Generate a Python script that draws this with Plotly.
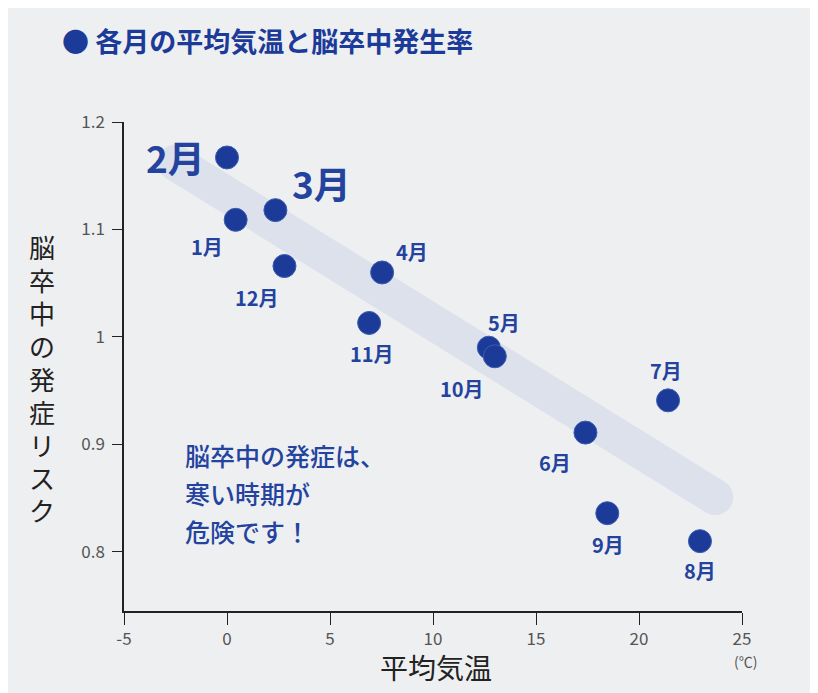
import plotly.graph_objects as go

# ---- data ----
months = ["1月", "2月", "3月", "4月", "5月", "6月", "7月", "8月", "9月", "10月", "11月", "12月"]
temp = [0.42, 0.0, 2.35, 7.53, 12.71, 17.40, 21.41, 22.96, 18.46, 13.0, 6.90, 2.79]
risk = [1.109, 1.167, 1.118, 1.060, 0.990, 0.911, 0.941, 0.810, 0.836, 0.982, 1.013, 1.066]

trend_x = [-2.5, 23.7]
trend_y = [1.162, 0.851]

x_ticks = [-5, 0, 5, 10, 15, 20, 25]
x_tick_labels = ["-5", "0", "5", "10", "15", "20", "25"]
y_ticks = [0.8, 0.9, 1.0, 1.1, 1.2]
y_tick_labels = ["0.8", "0.9", "1", "1.1", "1.2"]

title_text = "● 各月の平均気温と脳卒中発生率"
x_title = "平均気温"
y_title = "脳卒中の発症リスク"
unit_text = "(℃)"
note_lines = ["脳卒中の発症は、", "寒い時期が", "危険です！"]

# ---- styling / layout ----
OFF = 8  # page body margin
W, H = 818 - OFF, 693 - OFF
L, R, T, B = 124 - OFF, 76, 122 - OFF, 82
PW, PH = W - L - R, H - T - B
BLUE = "#1c3a98"
TEXT_BLUE = "#23439e"
BG = "#eeeff1"
FONT = "Noto Sans CJK JP"

label_offsets = {  # pixel offsets of month labels from their dot (x right, y up)
    "1月": (-29, -27), "2月": (-52, 0), "3月": (46, 27), "4月": (30, 21),
    "5月": (15, 25), "6月": (-30, -30), "7月": (-2, 30), "8月": (0, -29),
    "9月": (1, -31), "10月": (-33, -32), "11月": (3, -31), "12月": (-27, -31),
}
big_labels = {"2月", "3月"}


def px(x):
    return (x - OFF - L) / PW


def py(y):
    return (H - B - (y - OFF)) / PH


fig = go.Figure()

# trend band
fig.add_trace(go.Scatter(
    x=trend_x, y=trend_y, mode="lines+markers",
    line=dict(color="#dce1ec", width=36),
    marker=dict(size=36, color="#dce1ec"),
    hoverinfo="skip", showlegend=False, cliponaxis=False,
))

# points (5月 drawn before 10月 so 10月 overlaps)
fig.add_trace(go.Scatter(
    x=temp, y=risk, mode="markers",
    marker=dict(size=23, color=BLUE, line=dict(width=1, color="#3d5cb3")),
    text=months, hoverinfo="text", showlegend=False, cliponaxis=False,
))

annotations = []
for m, xv, yv in zip(months, temp, risk):
    dx, dy = label_offsets[m]
    big = m in big_labels
    annotations.append(dict(
        x=xv, y=yv, xref="x", yref="y", text=f"<b>{m}</b>", showarrow=False,
        xshift=dx, yshift=dy, xanchor="center", yanchor="middle",
        font=dict(family=FONT, size=37 if big else 20, color=TEXT_BLUE),
    ))

# title
annotations.append(dict(
    x=px(60), y=py(40), xref="paper", yref="paper", text=f"<b>{title_text}</b>",
    showarrow=False, xanchor="left", yanchor="middle",
    font=dict(family=FONT, size=27, color=BLUE),
))

# x title and unit
annotations.append(dict(
    x=px(436), y=py(667), xref="paper", yref="paper", text=x_title,
    showarrow=False, xanchor="center", yanchor="middle",
    font=dict(family=FONT, size=28, color="#222222"),
))
annotations.append(dict(
    x=px(745), y=py(661), xref="paper", yref="paper", text=unit_text,
    showarrow=False, xanchor="center", yanchor="middle",
    font=dict(family=FONT, size=14, color="#555555"),
))

# vertical y title
for i, ch in enumerate(y_title):
    annotations.append(dict(
        x=px(42), y=py(246 + i * 33), xref="paper", yref="paper", text=ch,
        showarrow=False, xanchor="center", yanchor="middle",
        font=dict(family=FONT, size=26, color="#222222"),
    ))

# note text
for i, line in enumerate(note_lines):
    annotations.append(dict(
        x=px(183), y=py(455 + i * 38), xref="paper", yref="paper", text=line,
        showarrow=False, xanchor="left", yanchor="middle",
        font=dict(family=FONT, size=25, color=TEXT_BLUE, weight=500),
    ))

fig.update_layout(
    width=W, height=H,
    margin=dict(l=L, r=R, t=T, b=B, pad=0),
    paper_bgcolor=BG, plot_bgcolor=BG,
    annotations=annotations,
    xaxis=dict(
        range=[-5, 25], tickvals=x_ticks, ticktext=x_tick_labels,
        showgrid=False, zeroline=False, showline=True, linecolor="#222", linewidth=1.5,
        ticks="outside", ticklen=12, tickwidth=1.2, tickcolor="#222",
        tickfont=dict(family=FONT, size=17, color="#555555"),
    ),
    yaxis=dict(
        range=[0.745, 1.2], tickvals=y_ticks, ticktext=y_tick_labels,
        showgrid=False, zeroline=False, showline=True, linecolor="#222", linewidth=1.5,
        ticks="outside", ticklen=10, tickwidth=1.2, tickcolor="#222",
        tickfont=dict(family=FONT, size=17, color="#555555"),
        ticklabelstandoff=4,
    ),
)

fig.write_html("out.html")
